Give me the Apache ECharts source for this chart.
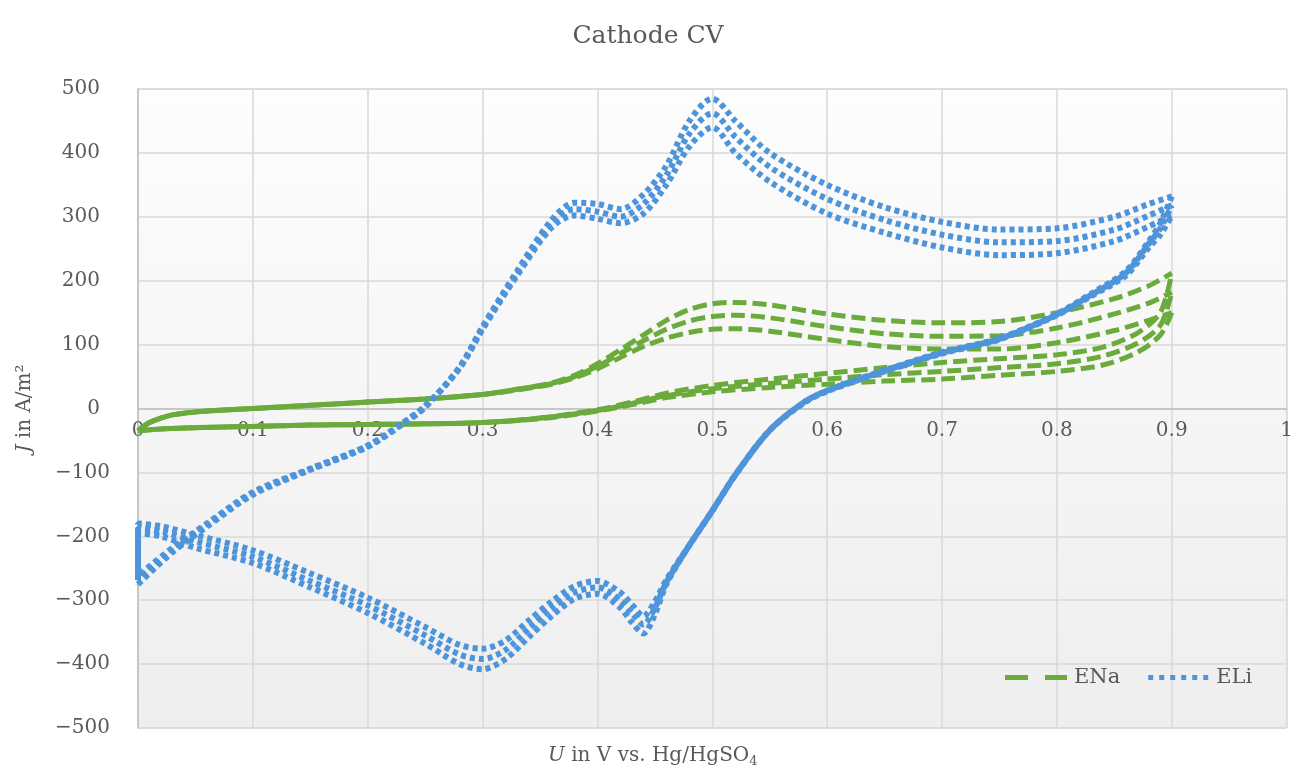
<!DOCTYPE html>
<html>
<head>
<meta charset="utf-8">
<script src="https://cdn.jsdelivr.net/npm/echarts@6/dist/echarts.min.js"></script>
<style>html,body{margin:0;padding:0;background:#fff}#c{width:1296px;height:773px}</style>
</head>
<body>
<div id="c"></div>
<script>
// ---- Data (U in V, J in A/m²) ----
const xTicks = [0, 0.1, 0.2, 0.3, 0.4, 0.5, 0.6, 0.7, 0.8, 0.9, 1];
const yTicks = [-500, -400, -300, -200, -100, 0, 100, 200, 300, 400, 500];

// ELi anodic branch (0 -> 0.9)
const liUpU = [0, 0.03, 0.06, 0.1, 0.15, 0.2, 0.23, 0.25, 0.28, 0.3, 0.33, 0.36, 0.38, 0.4, 0.42, 0.44, 0.46, 0.48, 0.5, 0.52, 0.55, 0.6, 0.65, 0.7, 0.75, 0.8, 0.85, 0.88, 0.9];
const liUpA = [-275, -225, -185, -135, -96, -60, -25, 2, 65, 128, 215, 295, 322, 320, 312, 335, 380, 450, 485, 450, 400, 350, 315, 292, 280, 282, 300, 320, 332];
const liUpB = [-268, -222, -182, -133, -95, -59, -24, 3, 64, 126, 212, 290, 312, 308, 300, 320, 365, 430, 462, 425, 378, 328, 295, 272, 260, 262, 280, 302, 318];
const liUpC = [-262, -218, -180, -131, -94, -58, -23, 4, 63, 124, 208, 283, 302, 297, 290, 305, 350, 410, 440, 400, 355, 305, 275, 252, 240, 243, 262, 285, 302];
// ELi cathodic branch (0.9 -> 0)
const liLoU = [0.9, 0.89, 0.88, 0.86, 0.83, 0.8, 0.75, 0.7, 0.65, 0.6, 0.58, 0.55, 0.52, 0.5, 0.48, 0.46, 0.45, 0.44, 0.43, 0.42, 0.4, 0.38, 0.36, 0.34, 0.32, 0.3, 0.28, 0.25, 0.2, 0.15, 0.1, 0.05, 0.02, 0, 0];
const liLoA = [332, 290, 262, 215, 180, 148, 110, 88, 60, 28, 10, -34, -104, -160, -214, -275, -322, -352, -335, -312, -290, -298, -325, -358, -392, -408, -400, -368, -320, -280, -242, -218, -200, -195, -275];
const liLoB = [318, 282, 258, 212, 178, 147, 109, 87, 59, 28, 10, -34, -104, -160, -214, -272, -312, -338, -320, -300, -280, -288, -313, -345, -378, -392, -385, -355, -308, -270, -232, -208, -192, -187, -268];
const liLoC = [302, 272, 252, 208, 176, 146, 108, 86, 58, 27, 9, -34, -104, -160, -214, -268, -302, -325, -307, -288, -270, -278, -302, -332, -363, -376, -370, -342, -296, -258, -222, -198, -184, -180, -262];

// ENa anodic branch (0 -> 0.9)
const naUpU = [0, 0.01, 0.03, 0.06, 0.1, 0.15, 0.2, 0.25, 0.3, 0.33, 0.36, 0.38, 0.4, 0.42, 0.44, 0.46, 0.48, 0.5, 0.52, 0.55, 0.6, 0.65, 0.7, 0.75, 0.8, 0.85, 0.88, 0.9];
const naUpA = [-35, -22, -10, -4, 0, 5, 10, 15, 22, 30, 40, 52, 70, 92, 115, 138, 155, 164, 166, 162, 148, 138, 134, 136, 150, 172, 192, 212];
const naUpB = [-35, -22, -10, -4, 0, 5, 10, 15, 22, 30, 39, 50, 66, 86, 106, 124, 137, 144, 146, 142, 128, 117, 113, 114, 126, 148, 165, 182];
const naUpC = [-35, -22, -10, -4, 0, 5, 10, 15, 22, 29, 38, 48, 62, 80, 97, 110, 119, 124, 125, 121, 108, 97, 93, 93, 103, 122, 138, 150];
// ENa cathodic branch (listed 0 -> 0.9)
const naLoU = [0, 0.02, 0.05, 0.1, 0.15, 0.2, 0.25, 0.3, 0.35, 0.4, 0.43, 0.46, 0.5, 0.55, 0.6, 0.65, 0.7, 0.75, 0.8, 0.84, 0.87, 0.89, 0.9];
const naLoA = [-35, -32, -30, -28, -26, -25, -24, -22, -15, -2, 10, 24, 36, 46, 55, 64, 72, 78, 84, 96, 118, 150, 212];
const naLoB = [-35, -32, -30, -28, -26, -25, -24, -22, -15, -3, 8, 20, 31, 39, 46, 53, 58, 64, 70, 82, 102, 130, 182];
const naLoC = [-35, -32, -30, -28, -26, -25, -24, -22, -16, -4, 6, 17, 26, 33, 38, 43, 46, 52, 58, 68, 88, 115, 150];

const GREEN = '#6AAB3C';
const BLUE = '#4D94DA';
const FONT = 'DejaVu Serif';
const TXT = '#595959';

function pairs(xs, ys) { return xs.map((x, i) => [x, ys[i]]); }

function mk(name, xs, ys, color, dash, offset, width) {
  return {
    name: name, type: 'line', data: pairs(xs, ys), showSymbol: false, symbol: 'none',
    smooth: 0.3, silent: true, animation: false,
    lineStyle: { color: color, width: width, type: dash, dashOffset: offset, cap: 'butt' },
    itemStyle: { color: color }
  };
}

const NA_DASH = [14, 6];
const LI_DASH = [5, 4];

const series = [
  mk('ENa', naUpU, naUpA, GREEN, NA_DASH, 0, 5),
  mk('ENa', naUpU, naUpB, GREEN, NA_DASH, 7, 5),
  mk('ENa', naUpU, naUpC, GREEN, NA_DASH, 14, 5),
  mk('ENa', naLoU, naLoA, GREEN, NA_DASH, 0, 5),
  mk('ENa', naLoU, naLoB, GREEN, NA_DASH, 7, 5),
  mk('ENa', naLoU, naLoC, GREEN, NA_DASH, 14, 5),
  mk('ELi', liUpU, liUpA, BLUE, LI_DASH, 0, 6),
  mk('ELi', liUpU, liUpB, BLUE, LI_DASH, 3, 6),
  mk('ELi', liUpU, liUpC, BLUE, LI_DASH, 6, 6),
  mk('ELi', liLoU, liLoA, BLUE, LI_DASH, 0, 6),
  mk('ELi', liLoU, liLoB, BLUE, LI_DASH, 3, 6),
  mk('ELi', liLoU, liLoC, BLUE, LI_DASH, 6, 6)
];

const chart = echarts.init(document.getElementById('c'), null, { renderer: 'canvas' });
chart.setOption({
  backgroundColor: '#ffffff',
  animation: false,
  title: [
    { text: 'Cathode CV', left: 'center', top: 19,
      textStyle: { fontFamily: FONT, fontSize: 25, fontWeight: 'normal', color: TXT } },
    { text: '{i|U} in V vs. Hg/HgSO{s|4}', left: 543, top: 738,
      textStyle: { fontFamily: FONT, fontSize: 20, fontWeight: 'normal', color: TXT,
        rich: { i: { fontFamily: FONT, fontStyle: 'italic', fontSize: 20, color: TXT },
                s: { fontFamily: FONT, fontSize: 13, color: TXT, padding: [12, 0, 0, 0] } } } }
  ],
  legend: {
    left: 1000, top: 662, itemWidth: 62, itemHeight: 5, itemGap: 28,
    data: [
      { name: 'ENa', icon: 'path://M0,0h23v5h-23z M40,0h22v5h-22z' },
      { name: 'ELi', icon: 'path://M0,0h5v5h-5z M11,0h5v5h-5z M22,0h5v5h-5z M33,0h5v5h-5z M44,0h5v5h-5z M55,0h5v5h-5z' }
    ],
    textStyle: { fontFamily: FONT, fontSize: 21, color: TXT, padding: [0, 0, 0, 2] }
  },
  grid: {
    left: 138, right: 4, top: 89, bottom: 45, show: true, borderColor: '#d9d9d9', borderWidth: 1,
    backgroundColor: new echarts.graphic.LinearGradient(0, 0, 0, 1, [
      { offset: 0, color: '#fdfdfd' }, { offset: 1, color: '#eeeeee' }
    ])
  },
  xAxis: {
    type: 'value', min: xTicks[0], max: xTicks[xTicks.length - 1], interval: 0.1,
    position: 'bottom', offset: -319.5,
    axisLine: { show: true, onZero: false, lineStyle: { color: '#bfbfbf', width: 1.5 } },
    axisTick: { show: false },
    splitLine: { show: true, lineStyle: { color: '#d9d9d9', width: 1.5 } },
    axisLabel: { fontFamily: FONT, fontSize: 20, color: TXT, margin: 12,
      formatter: v => String(Math.round(v * 10) / 10) }
  },
  yAxis: {
    type: 'value', min: yTicks[0], max: yTicks[yTicks.length - 1], interval: 100,
    name: '{i|J} in A/m²', nameLocation: 'middle', nameRotate: 90, nameGap: 103,
    nameTextStyle: { fontFamily: FONT, fontSize: 20, color: TXT,
      rich: { i: { fontFamily: FONT, fontStyle: 'italic', fontSize: 20, color: TXT } } },
    axisLine: { show: true, lineStyle: { color: '#bfbfbf', width: 1.5 } },
    axisTick: { show: false },
    splitLine: { show: true, lineStyle: { color: '#d9d9d9', width: 1.5 } },
    axisLabel: { fontFamily: FONT, fontSize: 20, color: TXT, margin: 28,
      formatter: v => v < 0 ? '{n|\u2212' + Math.abs(v) + '}' : '{p|' + v + '}',
      rich: { n: { fontFamily: FONT, fontSize: 20, color: TXT },
              p: { fontFamily: FONT, fontSize: 20, color: TXT, padding: [0, 10, 0, 0] } } }
  },
  series: series
});
</script>
</body>
</html>
